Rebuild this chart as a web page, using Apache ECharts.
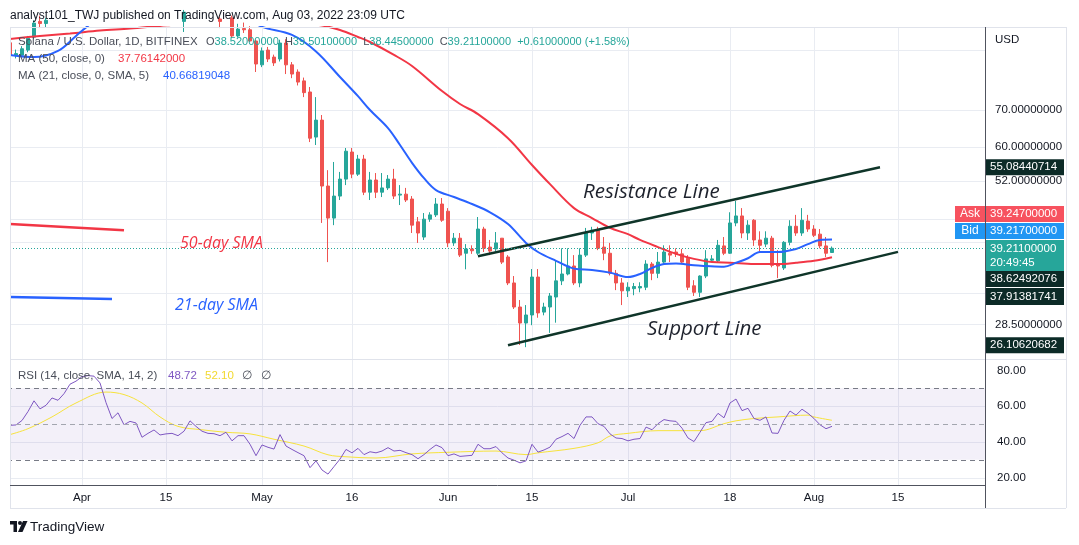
<!DOCTYPE html>
<html><head><meta charset="utf-8">
<script src="https://cdn.jsdelivr.net/npm/echarts@6/dist/echarts.min.js"></script>
<style>html,body{margin:0;padding:0;background:#fff}#c{width:1079px;height:545px}</style>
</head><body><div id="c"></div>
<script>
// ---------------- DATA ----------------
const N_DAYS = 163; // Mar 20 2022 .. Aug 29 2022 (daily categories)
const categories = [];
for (let i = 0; i < N_DAYS; i++) {
  categories.push(new Date(Date.UTC(2022, 2, 20 + i)).toISOString().slice(0, 10));
}
const tickDates = ['2022-04-01','2022-04-15','2022-05-01','2022-05-16','2022-06-01','2022-06-15','2022-07-01','2022-07-18','2022-08-01','2022-08-15'];
const tickLabels = ['Apr','15','May','16','Jun','15','Jul','18','Aug','15'];

// daily candles from 2022-03-20: [open, close, low, high]
const ohlc = [
[92.8,88.1,87.6,94.3],[88.1,88.7,86.9,90.2],[88.1,90.5,87.5,91.5],[90.0,94.6,89.2,95.5],[95.0,100.8,94.2,102],
[101.5,100.6,98.7,104],[100.6,102,98.8,103],[102.5,108,101,109],[108,110,106,116],[110,113,109,118],
[113,119,111,121],[119,122,117,126],[122,132,116,134],[132,132.5,129,137],[132.5,137,130,140],
[137,136,128,139],[136,127,126,138],[127,115,113,128],[115,117,113,119],[117,112,111,119],
[112,115,111,116],[115,111,110,117],[111,102,100.5,112],[102,105,101,106.5],[105,108,103,110],
[108,103.5,102,109],[103.5,105,102.5,106],[105,104.5,103,106.5],[104.5,101.5,100.5,106],[101.5,105.5,97.1,106.5],
[105.5,110,104.5,111.5],[110,107.5,106,112],[107.5,104.5,103.5,112],[104.5,103,101,106],[103,102.5,100.5,104],
[102.5,101.5,98.7,103.5],[101.5,103,99.6,104],[103,95.5,94.7,104],[95.5,98.3,94.9,100.5],[98.5,98.0,96.7,101],
[98.0,93.5,93.1,99.5],[93.5,84.9,82.1,94.0],[84.6,89.7,83.8,91.0],[90.0,86.7,85.6,91.2],[87.4,85.3,84.2,88.3],
[86.7,92.7,85.8,94.0],[92.7,84.6,81.4,94.2],[84.6,81.4,80.0,85.6],[82.1,78.7,77.6,83.0],[79.1,75.3,73.9,80.2],
[75.5,62.2,61.2,77.1],[62.5,67.1,60.45,73.9],[67.1,50.9,43.6,68.55],[50.9,44.5,37.0,54.4],[44.5,48.8,43.2,56.3],
[48.8,52.4,48.0,54.0],[52.4,58.9,51.1,59.7],[58.7,53.5,52.6,59.7],[53.5,57.0,53.1,58.0],[57.0,49.6,49.0,58.0],
[49.6,52.2,48.0,54.0],[52.2,49.6,48.4,53.75],[49.6,50.5,48.6,53.75],[50.5,52.4,50.05,53.3],[52.4,48.8,48.2,54.7],
[49.0,49.2,47.0,51.1],[49.2,48.0,47.6,50.5],[48.2,43.2,41.8,48.8],[43.8,41.8,40.1,44.7],[41.1,44.3,40.6,45.45],
[44.3,45.1,43.8,45.6],[45.1,47.2,44.7,48.4],[47.2,44.1,43.8,48.4],[45.8,40.1,39.4,46.4],[40.1,40.9,39.6,41.8],
[40.9,38.1,37.8,41.8],[38.4,39.1,35.9,39.9],[39.1,38.8,38.3,39.7],[38.4,42.5,38.1,44.7],[42.5,39.2,38.6,42.9],
[39.4,38.75,38.1,40.6],[39.1,40.1,38.75,41.97],[40.9,37.0,36.7,40.9],[37.8,33.9,33.6,38.1],[33.9,30.65,30.4,34.9],
[30.65,28.66,26.14,31.56],[28.66,29.64,25.9,30.9],[29.64,34.75,28.4,35.94],[34.75,29.9,29.3,35.94],[30.0,30.65,29.6,31.2],
[30.65,32.1,27.5,32.5],[31.96,34.2,28.7,37.3],[34.2,35.2,33.6,39.2],[35.2,36.4,35.0,39.2],[36.4,33.9,33.6,38.1],
[33.9,38.1,33.3,39.2],[38.1,41.8,37.8,42.7],[41.8,42.3,40.6,42.9],[42.3,39.2,38.9,42.9],[39.4,38.4,37.3,41.1],
[38.4,35.3,35.0,40.1],[35.3,33.9,32.9,35.8],[33.9,32.8,30.9,34.6],[32.8,33.3,31.96,34.0],[33.1,33.4,32.2,33.9],
[33.2,33.4,32.6,34.0],[33.3,36.7,32.9,37.3],[36.7,35.3,34.3,37.0],[35.3,37.0,34.6,38.6],[37.0,38.6,36.7,39.7],
[38.4,38.1,37.0,39.7],[38.6,38.3,37.8,39.2],[38.3,37.0,36.7,39.1],[37.6,33.3,32.9,38.1],[33.5,32.6,32.1,34.3],
[32.6,34.9,31.96,35.0],[34.9,37.5,34.6,38.9],[37.3,37.5,37.0,38.1],[37.2,39.7,37.0,40.6],[39.6,38.4,38.1,41.1],
[38.4,43.6,38.3,45.6],[43.6,44.9,43.0,47.8],[44.9,41.8,40.9,46.4],[41.8,43.2,40.6,44.1],[44.1,40.6,39.6,44.3],
[40.6,39.7,38.6,42.1],[39.9,40.9,39.4,42.1],[40.9,36.5,36.2,41.3],[36.7,36.4,34.6,38.9],[36.1,40.2,35.8,40.4],
[40.2,43.0,39.7,44.1],[43.0,41.8,41.3,45.1],[41.8,44.1,41.3,46.4],[43.95,42.5,42.0,45.1],[42.5,41.4,41.1,43.2],
[41.6,39.6,39.2,42.5],[39.6,38.4,37.8,41.1],[38.52,39.211,38.445,39.501]
];

const ma50 = [['2022-03-20',94.3],['2022-03-25',95.5],['2022-03-30',96.5],['2022-04-04',97.7],['2022-04-09',98.5],
['2022-04-14',99.6],['2022-04-19',100.6],['2022-04-25',101.3],['2022-05-01',101.3],['2022-05-07',100.6],['2022-05-11',99.8],
['2022-05-14',97.9],['2022-05-17',95.1],['2022-05-19',93.1],['2022-05-23',88.2],['2022-05-26',84.2],['2022-05-31',75.8],
['2022-06-03',71.8],['2022-06-06',68.8],['2022-06-11',62.2],['2022-06-15',55.6],['2022-06-18',51.3],['2022-06-22',46.4],
['2022-06-25',44.5],['2022-06-28',42.7],['2022-07-01',41.6],['2022-07-03',40.6],['2022-07-06',39.4],['2022-07-09',38.3],
['2022-07-12',37.5],['2022-07-15',37.0],['2022-07-18',36.9],['2022-07-22',36.7],['2022-07-26',36.7],['2022-07-29',36.9],
['2022-08-01',37.2],['2022-08-04',37.76142]];

const ma21 = [['2022-03-20',88.2],['2022-03-24',87.4],['2022-03-28',89.7],['2022-03-31',95.5],['2022-04-02',99.6],
['2022-04-05',105],['2022-04-09',112],['2022-04-14',116],['2022-04-19',114],['2022-04-24',108],['2022-04-29',102],
['2022-05-01',99.2],['2022-05-06',95.9],['2022-05-10',89.5],['2022-05-14',80.4],['2022-05-17',74.2],['2022-05-19',70.0],
['2022-05-22',64.9],['2022-05-24',60.45],['2022-05-26',56.1],['2022-05-28',52.6],['2022-05-30',50.05],['2022-06-02',48.6],
['2022-06-05',47.2],['2022-06-08',45.6],['2022-06-11',43.4],['2022-06-14',40.1],['2022-06-16',38.6],['2022-06-19',37.2],
['2022-06-22',36.0],['2022-06-25',35.8],['2022-06-28',35.4],['2022-07-01',34.75],['2022-07-03',35.2],['2022-07-05',36.1],
['2022-07-07',36.7],['2022-07-09',36.8],['2022-07-12',36.5],['2022-07-14',36.4],['2022-07-17',36.3],['2022-07-19',36.9],
['2022-07-21',37.6],['2022-07-23',38.6],['2022-07-26',38.6],['2022-07-29',39.1],['2022-07-31',39.9],['2022-08-02',40.6],
['2022-08-04',40.66819]];

const resistanceLine = [['2022-06-06',37.91381741],['2022-08-12',55.08440714]];
const supportLine = [['2022-06-11',26.10620682],['2022-08-15',38.62492076]];
const sma50Mark = [['2022-03-20',43.4],['2022-04-08',42.3]];
const sma21Mark = [['2022-03-20',31.96],['2022-04-06',31.7]];

const rsi = [49.3,49.5,52,57,63,58.5,60.5,64.6,63.3,67,
72.3,74,76.5,77.1,76.8,73,62,53.1,56.3,49.6,
51.5,50.6,42.6,44.8,46.7,43.9,44.5,44.8,43.5,46.0,
51.8,48.7,46.0,44.8,44.6,43.5,45.4,40.6,43.5,43.5,
38.7,32.3,38.3,37.0,36.0,44.1,37.7,35.8,34,32.3,
25.6,29.4,24.3,22.0,26.2,30.4,35.8,33.9,36.4,32.9,
34.5,33.9,34.9,36.8,34.9,35.3,34,32.9,30.6,32.9,
35.8,38.3,36.8,32.3,33.3,31.9,32.2,32.5,38.7,36.2,
36.2,37.4,33.9,31.0,29.8,28.3,29.4,38.7,34.3,35.5,
37.1,41.5,43,44.8,41.9,49.3,54.0,54.0,50.2,48.7,
44.5,42.2,41.9,40.6,41.5,41.9,48.3,46.8,50.2,52.5,
51.8,51.5,47.7,42.2,40.2,45.4,50.8,51.5,56.0,53.5,
61.8,64.0,57.5,58.8,53.1,52.1,54.0,45.0,44.8,52.1,
57.3,55.0,58.3,56.0,53.1,49.6,47.4,48.72];

const rsiMA = [['2022-03-20',44.1],['2022-03-23',47.4],['2022-03-27',54.0],['2022-03-31',61.8],['2022-04-05',67.9],
['2022-04-08',66.5],['2022-04-11',61.8],['2022-04-14',54.0],['2022-04-17',48.7],['2022-04-21',46.8],['2022-04-25',45.4],
['2022-04-29',44.5],['2022-05-03',41.5],['2022-05-08',37.7],['2022-05-12',32.8],['2022-05-15',31.7],['2022-05-20',31.0],
['2022-05-26',33.3],['2022-06-01',34.2],['2022-06-09',34.9],['2022-06-14',32.9],['2022-06-16',33.9],['2022-06-22',36.4],
['2022-06-26',39.5],['2022-06-28',43.3],['2022-07-01',44.8],['2022-07-06',46.3],['2022-07-09',46.3],['2022-07-13',46.3],
['2022-07-17',50.2],['2022-07-19',51.8],['2022-07-22',53.1],['2022-07-26',54.0],['2022-07-31',55.0],['2022-08-01',54.0],
['2022-08-04',52.1]];

const priceGrid = [90, 70, 60, 52, 44.3, 40.2, 32.5, 28.5];
const priceTicks = [70, 60, 52, 28.5];
const rsiGrid = [60, 40, 20];
const rsiTicks = [80, 60, 40, 20];
const lastClose = 39.211;

// ---------------- CHART ----------------
const FONT = '"Liberation Sans", Arial, sans-serif';
const UP = '#26a69a', DOWN = '#ef5350';
const RED = '#f23645', BLUE = '#2962ff', TL = '#0f3529';
const chart = echarts.init(document.getElementById('c'));

const lineSeries = (data, color, width, smooth, z) => ({
  type: 'line', xAxisIndex: 0, yAxisIndex: 0, data, symbol: 'none', smooth: smooth,
  lineStyle: { color, width }, z: z || 3, silent: true
});

chart.setOption({
  animation: false,
  backgroundColor: '#ffffff',
  grid: [
    { left: 7, top: 27, width: 978, height: 331 },
    { left: 7, top: 359, width: 978, height: 126 }
  ],
  xAxis: [
    { type: 'category', gridIndex: 0, data: categories, boundaryGap: true,
      axisLine: { show: false }, axisTick: { show: false }, axisLabel: { show: false }, splitLine: { show: false } },
    { type: 'category', gridIndex: 1, data: categories, boundaryGap: true,
      axisLine: { show: false }, axisTick: { show: false }, splitLine: { show: false },
      axisLabel: { show: true, interval: (i, v) => tickDates.includes(v),
        formatter: v => tickLabels[tickDates.indexOf(v)], color: '#131722', fontSize: 11.5, margin: 7, fontFamily: FONT } }
  ],
  yAxis: [
    { type: 'log', gridIndex: 0, min: 24.75, max: 99.15, axisLine: { show: false }, axisTick: { show: false },
      axisLabel: { show: false }, splitLine: { show: false } },
    { type: 'value', gridIndex: 1, min: 15.9, max: 86.4, axisLine: { show: false }, axisTick: { show: false },
      axisLabel: { show: false }, splitLine: { show: false } }
  ],
  series: [
    { type: 'candlestick', xAxisIndex: 0, yAxisIndex: 0, data: ohlc, barWidth: 4, clip: true, z: 2,
      itemStyle: { color: UP, color0: DOWN, borderColor: UP, borderColor0: DOWN, borderWidth: 1 },
      markLine: { silent: true, symbol: ['none', 'none'], label: { show: false },
        lineStyle: { color: UP, type: [1, 2], width: 1 }, data: [{ yAxis: lastClose }] } },
    lineSeries(ma50, RED, 2, 0.35),
    lineSeries(ma21, BLUE, 2, 0.35),
    lineSeries(resistanceLine, TL, 2.5, false, 4),
    lineSeries(supportLine, TL, 2.5, false, 4),
    lineSeries(sma50Mark, RED, 2.5, false),
    lineSeries(sma21Mark, BLUE, 2.5, false),
    { type: 'line', xAxisIndex: 1, yAxisIndex: 1, data: rsi, symbol: 'none', silent: true,
      lineStyle: { color: '#7e57c2', width: 1 }, z: 4,
      markArea: { silent: true, itemStyle: { color: 'rgba(126,87,194,0.09)' }, data: [[{ yAxis: 30 }, { yAxis: 70 }]] },
      markLine: { silent: true, symbol: ['none', 'none'], label: { show: false },
        data: [
          { yAxis: 70, lineStyle: { color: '#787b86', type: [5, 4], width: 1 } },
          { yAxis: 50, lineStyle: { color: '#a3a6af', type: [5, 4], width: 1 } },
          { yAxis: 30, lineStyle: { color: '#787b86', type: [5, 4], width: 1 } }
        ] } },
    { type: 'line', xAxisIndex: 1, yAxisIndex: 1, data: rsiMA, symbol: 'none', smooth: 0.35, silent: true,
      lineStyle: { color: '#f7e33c', width: 1 }, z: 3 }
  ]
});

// ---------------- OVERLAYS (grid, axes labels, legends, badges) ----------------
const px = (v) => chart.convertToPixel({ xAxisIndex: 0 }, v);
const py0 = (v) => chart.convertToPixel({ yAxisIndex: 0 }, v);
const py1 = (v) => chart.convertToPixel({ yAxisIndex: 1 }, v);
const G = [];
const GRID_C = '#e9ecf2';
const L = (x1, y1, x2, y2, stroke, w, z) => G.push({ type: 'line', silent: true, z: z === undefined ? -1 : z,
  shape: { x1, y1, x2, y2 }, style: { stroke, lineWidth: w || 1 } });
const T = (x, y, text, fill, font, align, z) => G.push({ type: 'text', silent: true, z: z || 50, x, y,
  style: { text, fill, font: font || ('11.5px ' + FONT), textAlign: align || 'left', textVerticalAlign: 'middle',
    align: align || 'left', verticalAlign: 'middle' } });
const R = (x, y, w, h, fill, z) => G.push({ type: 'rect', silent: true, z: z || 40, shape: { x, y, width: w, height: h }, style: { fill } });
const mctx = document.createElement('canvas').getContext('2d');
const textRun = (x, y, parts) => { // place text segments one after another
  parts.forEach(([s, fill, font]) => { T(x, y, s, fill, font); mctx.font = font; x += mctx.measureText(s).width; });
};

// vertical grid
tickDates.forEach(d => { const x = Math.round(px(d)) + 0.5; L(x, 27, x, 485, GRID_C, 1); });
// horizontal grid (main)
priceGrid.forEach(v => { const y = Math.round(py0(v)) + 0.5; L(10, y, 985, y, GRID_C, 1); });
// horizontal grid (rsi)
rsiGrid.forEach(v => { const y = Math.round(py1(v)) + 0.5; L(10, y, 985, y, GRID_C, 1); });
// mask outside the left frame edge
R(0, 27, 10, 460, '#ffffff', 25);
// frame
L(10.5, 27, 10.5, 508, '#e0e3eb', 1, 30);
L(10, 27.5, 1066, 27.5, '#e0e3eb', 1, 30);
L(1066.5, 27, 1066.5, 508, '#e0e3eb', 1, 30);
L(10, 508.5, 1066, 508.5, '#e0e3eb', 1, 30);
L(10, 359.5, 1066, 359.5, '#e0e3eb', 1, 30);
L(985.5, 27, 985.5, 508, '#50535e', 1, 30);
L(10, 485.5, 985, 485.5, '#50535e', 1, 30);

// price axis labels
const AX = '11.5px ' + FONT;
T(995, 40, 'USD', '#131722', AX);
priceTicks.forEach(v => T(995, py0(v), v.toFixed(8), '#131722', AX));
rsiTicks.forEach(v => T(997, py1(v), v.toFixed(2), '#131722', AX));

// price badges
const BW = 78, BX = 986;
const badge = (y, h, bg, lines) => {
  R(BX, y - h / 2, BW, h, bg, 60);
  if (lines.length === 1) T(BX + 4, y, lines[0], '#ffffff', AX, 'left', 61);
  else { T(BX + 4, y - 7, lines[0], '#ffffff', AX, 'left', 61); T(BX + 4, y + 7, lines[1], '#ffffff', AX, 'left', 61); }
};
badge(py0(55.08440714), 16, '#0c2b27', ['55.08440714']);
R(955, 206, 30, 16, '#f7525f', 60); T(970, 214, 'Ask', '#ffffff', '12px ' + FONT, 'center', 61);
R(955, 223, 30, 16, '#2196f3', 60); T(970, 231, 'Bid', '#ffffff', '12px ' + FONT, 'center', 61);
badge(214, 16, '#f7525f', ['39.24700000']);
badge(231, 16, '#2196f3', ['39.21700000']);
badge(255.5, 31, '#26a69a', ['39.21100000', '20:49:45']);
badge(279, 16, '#0c2b27', ['38.62492076']);
badge(296.5, 17, '#0c2b27', ['37.91381741']);
badge(py0(26.10620682), 16, '#0c2b27', ['26.10620682']);

// header
T(10, 15.5, 'analyst101_TWJ published on TradingView.com, Aug 03, 2022 23:09 UTC', '#131722', '12px ' + FONT);
// legend line 1
const LG = '11.5px ' + FONT, LV = '11px ' + FONT, GREY = '#4a4e59', GRN = '#26a69a';
T(18, 42, 'Solana / U.S. Dollar, 1D, BITFINEX', GREY, LG);
textRun(206, 42, [['O', GREY, LV], ['38.52000000  ', GRN, LV], ['H', GREY, LV], ['39.50100000  ', GRN, LV],
  ['L', GREY, LV], ['38.44500000  ', GRN, LV], ['C', GREY, LV], ['39.21100000  ', GRN, LV], ['+0.61000000 (+1.58%)', GRN, LV]]);
T(18, 59, 'MA (50, close, 0)', GREY, LG); T(118, 59, '37.76142000', RED, LG);
T(18, 76, 'MA (21, close, 0, SMA, 5)', GREY, LG); T(163, 76, '40.66819048', BLUE, LG);
// rsi legend
T(18, 376, 'RSI (14, close, SMA, 14, 2)', GREY, LG);
T(168, 376, '48.72', '#7e57c2', LG); T(205, 376, '52.10', '#f2d930', LG);
T(242, 376, '\u2205', GREY, LG); T(261, 376, '\u2205', GREY, LG);

// annotations
const AN = 'italic 20.5px "Open Sans", sans-serif';
T(583, 192, 'Resistance Line', '#1e222d', AN);
T(647, 329, 'Support Line', '#1e222d', AN);
T(180, 243, '50-day SMA', RED, 'italic 16px "Open Sans", sans-serif');
T(175, 305, '21-day SMA', BLUE, 'italic 16px "Open Sans", sans-serif');

// TradingView logo
G.push({ type: 'polygon', silent: true, z: 50, shape: { points: [[10,521],[17,521],[17,532],[13.5,532],[13.5,524.5],[10,524.5]] }, style: { fill: '#131722' } });
G.push({ type: 'circle', silent: true, z: 50, shape: { cx: 20, cy: 523, r: 2 }, style: { fill: '#131722' } });
G.push({ type: 'polygon', silent: true, z: 50, shape: { points: [[23,521],[27.5,521],[22.5,532],[18,532]] }, style: { fill: '#131722' } });
T(30, 527, 'TradingView', '#131722', '13.5px ' + FONT);

chart.setOption({ graphic: { elements: G } });
</script>
</body></html>
